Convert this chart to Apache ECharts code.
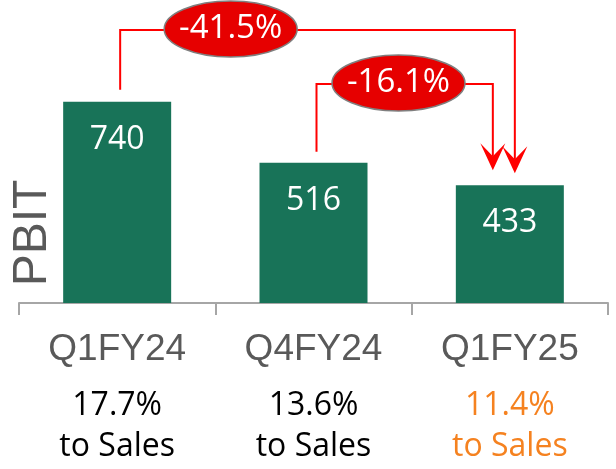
<!DOCTYPE html>
<html>
<head>
<meta charset="utf-8">
<script src="https://cdn.jsdelivr.net/npm/echarts@6/dist/echarts.min.js"></script>
<style>
  html, body { margin: 0; padding: 0; background: #fff; }
  #chart { width: 616px; height: 469px; }
</style>
</head>
<body>
<div id="chart"></div>
<script>
const categories = ['Q1FY24', 'Q4FY24', 'Q1FY25'];
const pbit = [740, 516, 433];
const salesShare = ['17.7%', '13.6%', '11.4%'];
// change brackets: from bar -> to bar
const changeFrom = [0, 1];
const changeTo = [2, 2];
const changeLabels = ['-41.5%', '-16.1%'];

const GREEN = '#187358';
const RED = '#ff0000';
const ORANGE = '#f58220';
const GREY_TEXT = '#595959';
const AXIS_GREY = '#a6a6a6';
const FONT = '"Open Sans"';

// where each bracket sits (pixels)
const bracketLayout = [
    { level: 30, bubbleAt: 0.28, leftShift: 3, rightShift: 5, gapL: 12, gapR: 12 },
    { level: 84, bubbleAt: 0.465, leftShift: 3, rightShift: -17, gapL: 11, gapR: 15 }
];

const chart = echarts.init(document.getElementById('chart'));

const option = {
    animation: false,
    grid: { left: 19, right: 8, top: 4, bottom: 166 },
    xAxis: {
        type: 'category',
        data: categories,
        axisLine: { lineStyle: { color: AXIS_GREY, width: 2 } },
        axisTick: { show: true, length: 12, lineStyle: { color: AXIS_GREY, width: 2 } },
        axisLabel: {
            margin: 11,
            interval: 0,
            formatter: (value, idx) => {
                const k = idx === categories.length - 1 ? 'o' : 'b';
                return `{q|${value}}\n{${k}|${salesShare[idx]}}\n{${k}|to Sales}`;
            },
            rich: {
                q: { fontFamily: 'Liberation Sans', fontSize: 37, color: GREY_TEXT, lineHeight: 71 },
                b: { fontFamily: 'Open Sans', fontSize: 32, color: '#000', lineHeight: 41 },
                o: { fontFamily: 'Open Sans', fontSize: 32, color: ORANGE, lineHeight: 41 }
            }
        }
    },
    yAxis: {
        type: 'value',
        min: 0,
        max: 1100,
        show: false
    },
    series: [
        {
            type: 'bar',
            data: pbit,
            barWidth: 108,
            itemStyle: { color: GREEN },
            label: {
                show: true,
                position: 'insideTop',
                distance: 22,
                color: '#fff',
                fontFamily: 'Open Sans',
                fontSize: 32,
                lineHeight: 32
            }
        }
    ]
};

chart.setOption(option);

const graphics = [{
    type: 'text',
    x: 33,
    y: 233,
    rotation: Math.PI / 2,
    style: {
        text: 'PBIT',
        fill: GREY_TEXT,
        font: '48px "Liberation Sans"',
        align: 'center',
        verticalAlign: 'middle'
    }
}];

changeLabels.forEach((label, i) => {
    const lay = bracketLayout[i];
    const a = chart.convertToPixel({ gridIndex: 0 }, [changeFrom[i], pbit[changeFrom[i]]]);
    const b = chart.convertToPixel({ gridIndex: 0 }, [changeTo[i], pbit[changeTo[i]]]);
    const lx = a[0] + lay.leftShift;
    const rx = b[0] + lay.rightShift;
    const tipY = b[1] - lay.gapR;
    const notchY = tipY - 14;
    graphics.push({
        type: 'polyline',
        z: 10,
        shape: { points: [[lx, a[1] - lay.gapL], [lx, lay.level], [rx, lay.level], [rx, notchY]] },
        style: { stroke: RED, lineWidth: 2, fill: null }
    });
    graphics.push({
        type: 'polygon',
        z: 10,
        shape: { points: [[rx, tipY], [rx - 12.5, tipY - 27], [rx, notchY], [rx + 12.5, tipY - 27]] },
        style: { fill: RED }
    });
    const cx = lx + (rx - lx) * lay.bubbleAt;
    graphics.push({
        type: 'ellipse',
        z: 20,
        shape: { cx: cx, cy: lay.level - 1, rx: 66.5, ry: 28 },
        style: { fill: '#e60000', stroke: '#7f7f7f', lineWidth: 1.5 }
    });
    graphics.push({
        type: 'text',
        z: 21,
        x: cx,
        y: lay.level - 1,
        style: {
            text: label,
            fill: '#fff',
            font: '33px ' + FONT,
            align: 'center',
            verticalAlign: 'middle'
        }
    });
});

chart.setOption({ graphic: graphics });
</script>
</body>
</html>
